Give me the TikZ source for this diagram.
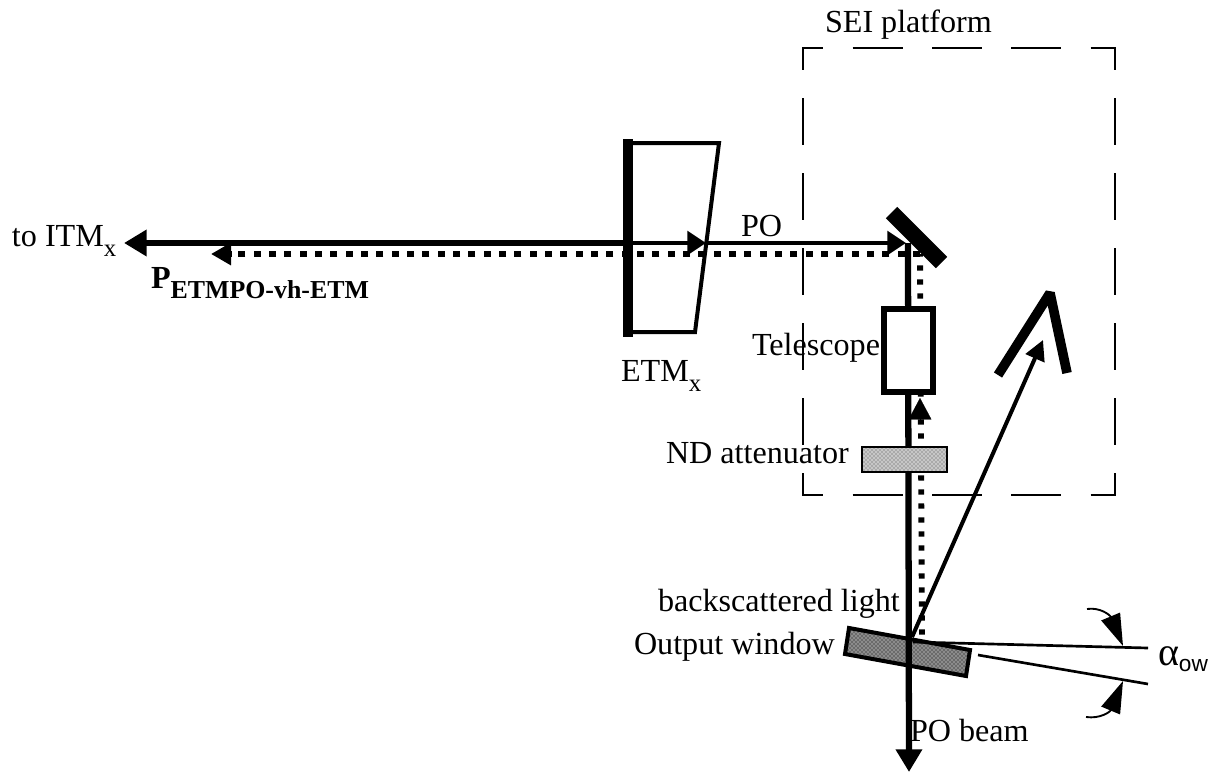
\documentclass[tikz,border=0pt]{standalone}
\usepackage{fontspec}
\setmainfont{Liberation Serif}
\newfontfamily\lblsans{Liberation Sans}
\usetikzlibrary{arrows.meta,calc,patterns}
\newcommand{\lblsub}[1]{\raisebox{-0.32em}{\fontsize{18.6}{22}\selectfont #1}}
\newcommand{\lblsubb}[1]{\raisebox{-0.32em}{\fontsize{19.4}{22}\selectfont #1}}
\tikzset{
  x=0.75pt,y=-0.75pt,
  lbl/.style={anchor=base west,inner sep=0pt,outer sep=0pt,font=\fontsize{24.1}{28}\selectfont,text=black},
  beam/.style={line width=4.7pt,black},
  thinbeam/.style={line width=3.7pt,black},
  dotbeamH/.style={line width=4.6pt,black,dash pattern=on 5.2pt off 6.3pt},
  dotbeamV/.style={line width=4.4pt,black,dash pattern=on 3.9pt off 6.6pt,dash phase=2pt},
  headL/.style={-{Triangle[length=17pt,width=19pt]}},
  headM/.style={-{Triangle[length=14pt,width=17.5pt]}},
  headS/.style={-{Triangle[length=15pt,width=15pt]}},
  guide/.style={line width=2pt,black},
  anglearrow/.style={line width=1.4pt,black,-{Triangle[length=24pt,width=15pt]}},
  platformH/.style={line width=1.5pt,black,dash pattern=on 37.5pt off 22pt,dash phase=21.5pt},
  platformV/.style={line width=1.5pt,black,dash pattern=on 35.25pt off 21pt,dash phase=18.75pt},
}
\begin{document}
\begin{tikzpicture}
\useasboundingbox (0,0) rectangle (1219,774);
\fill[white] (0,0) rectangle (1219,774);

% named points
\coordinate (ltip) at (124,243);
\coordinate (etm) at (628,243);
\coordinate (wedgehit) at (706,243);
\coordinate (mtip) at (906,243);
\coordinate (corner) at (908,243);
\coordinate (outtip) at (909,772);
\coordinate (dtipL) at (211,254);
\coordinate (dcorner) at (920,254);
\coordinate (dtipU) at (920,398);
\coordinate (dwin) at (922,640);
\coordinate (hit) at (912,637);
\coordinate (vtip) at (1043,340);
\coordinate (tlA) at (802,48);
\coordinate (trA) at (1116,48);
\coordinate (blA) at (802,495);
\coordinate (brA) at (1116,495);
\coordinate (tlB) at (803,48);
\coordinate (trB) at (1115,48);
\coordinate (blB) at (803,495);
\coordinate (brB) at (1115,495);
\coordinate (vapex) at (1050,293);

% platform
\draw[platformH] (tlA) -- (trA);
\draw[platformH] (blA) -- (brA);
\draw[platformV] (tlB) -- (blB);
\draw[platformV] (trB) -- (brB);

% output window (beam is seen through it)
\fill[black!45] (849,628) -- (970,650) -- (966,676) -- (845,654) -- cycle;
\fill[pattern=crosshatch dots,pattern color=black] (849,628) -- (970,650) -- (966,676) -- (845,654) -- cycle;
\draw[line width=3pt,black] (849,628) -- (970,650) -- (966,676) -- (845,654) -- cycle;

% main beams
\draw[beam,headL] (etm) -- (ltip);
\draw[thinbeam,headM] (wedgehit) -- (mtip);
\draw[thinbeam,headM] (etm) -- (wedgehit);
\draw[beam,headL] (corner) -- (outtip);

% backscatter
\draw[dotbeamH] (dcorner) -- ($(dtipL)+(20,0)$);
\draw[beam,-{Triangle[length=15pt,width=16pt]}] ($(dtipL)+(21,0)$) -- (dtipL);
\draw[dotbeamV] (dcorner) -- (dwin);
\draw[line width=0.1pt,-{Triangle[length=16pt,width=17pt]}] ($(dtipU)+(0,22)$) -- (dtipU);

% reflected thin beam
\draw[line width=3pt,black,headS] (hit) -- (vtip);

% ETM
\draw[line width=3pt,black,line join=miter] (628,143) -- (719,143) -- (695,332) -- (628,332);
\draw[line width=7.5pt,black] (628,139) -- (628,337);

% steering mirror
\draw[line width=12pt,black] (891.5,212.5) -- (941.5,262.5);

% V mirror
\draw[line width=7.2pt,black,line join=bevel] (998,375) -- (vapex) -- (1067,373);

% telescope
\draw[fill=white,line width=5pt] (884,309) rectangle (933,392);

% attenuator
\fill[black!22] (862,447) rectangle (947,472);
\fill[pattern=crosshatch dots,pattern color=black!70] (862,447) rectangle (947,472);
\draw[line width=1.7pt] (862,447) rectangle (947,472);

% angle guides
\draw[guide] (913,642) -- (1148,648);
\draw[guide] (978,655) -- (1148,684);
\coordinate (atipU) at (1123,646);
\coordinate (atipD) at (1123,681);
\coordinate (astartU) at (1087,609);
\coordinate (astartD) at (1086,717);
\draw[anglearrow] (astartU) .. controls (1100,607) and (1110,615) .. (atipU);
\draw[anglearrow] (astartD) .. controls (1100,719) and (1110,712) .. (atipD);

% labels
\node[lbl] (sei) at (825,33) {SEI platform};
\node[lbl] (toitm) at (12,246) {to ITM\lblsub{x}};
\node[lbl,font=\fontsize{24.1}{28}\bfseries] (petm) at (151,288) {P\lblsubb{ETMPO-vh-ETM}};
\node[lbl] (etmlbl) at (621,381) {ETM\lblsub{x}};
\node[lbl] (po) at (741,236) {PO};
\node[lbl] (tel) at (752,355) {Telescope};
\node[lbl] (nd) at (666,463) {ND attenuator};
\node[lbl] (back) at (658,611) {backscattered light};
\node[lbl] (outw) at (634,654) {Output window};
\node[lbl] (pob) at (910,741) {PO beam};
\node[lbl,font=\fontsize{30}{34}\selectfont] (alpha) at (1158,665) {α\raisebox{-0.16em}{\lblsans\fontsize{17}{20}\selectfont ow}};
\end{tikzpicture}
\end{document}
